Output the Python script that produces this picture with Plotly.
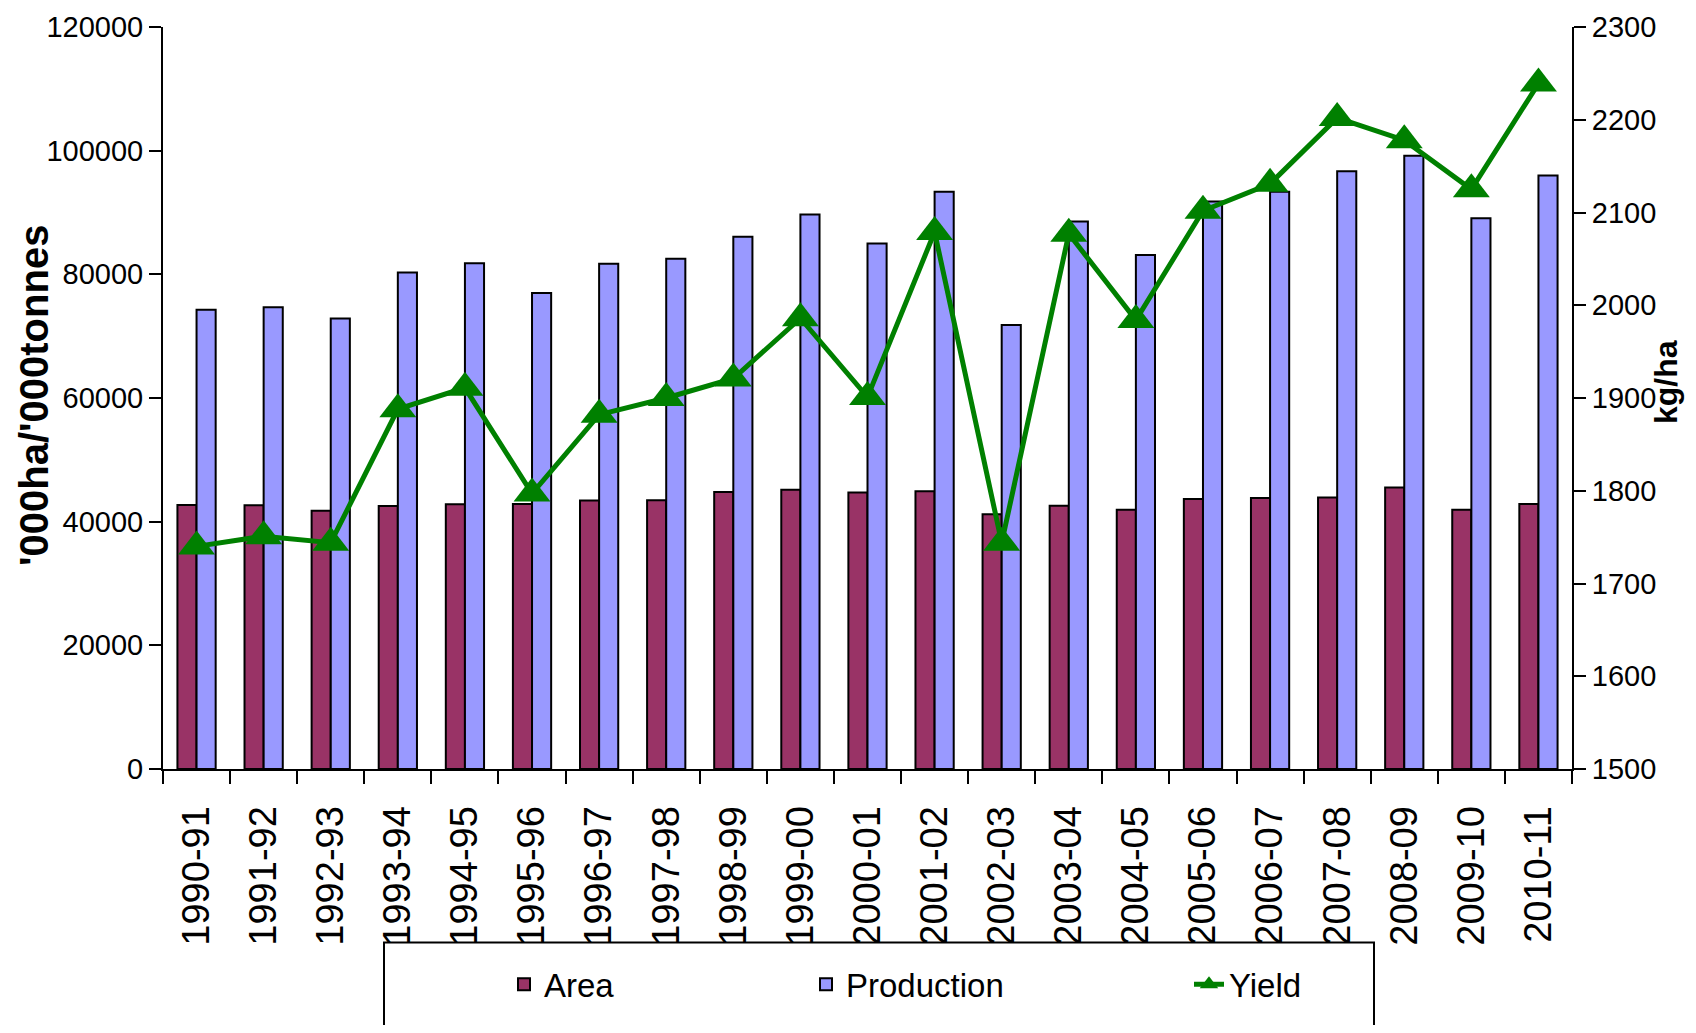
import plotly.graph_objects as go

years = ["1990-91", "1991-92", "1992-93", "1993-94", "1994-95", "1995-96", "1996-97",
         "1997-98", "1998-99", "1999-00", "2000-01", "2001-02", "2002-03", "2003-04",
         "2004-05", "2005-06", "2006-07", "2007-08", "2008-09", "2009-10", "2010-11"]
area = [42690, 42650, 41780, 42540, 42810, 42840, 43430, 43450, 44800, 45160, 44710,
        44900, 41180, 42590, 41910, 43660, 43810, 43910, 45540, 41920, 42860]
production = [74290, 74680, 72860, 80300, 81810, 76980, 81730, 82540, 86080, 89680, 84980,
              93340, 71820, 88530, 83130, 91790, 93360, 96690, 99180, 89090, 95980]
yield_kg = [1740, 1751, 1744, 1888, 1911, 1797, 1882, 1900, 1921, 1986, 1901,
            2079, 1744, 2077, 1984, 2102, 2131, 2202, 2178, 2125, 2239]

# page is drawn with an 8px body margin; figure sized to fit the window
OFF = 8
W, H = 1696 - 2 * OFF, 1033 - 2 * OFF
L, R, T, B = 163 - OFF, 116, 27 - OFF, 254
PW, PH = W - L - R, H - T - B


def px(x):
    """page x pixel -> paper fraction"""
    return (x - OFF - L) / PW


def py(y):
    """page y pixel -> paper fraction"""
    return (H - B - (y - OFF)) / PH


SANS = "Liberation Sans, Arial, sans-serif"

fig = go.Figure()
fig.add_trace(go.Bar(x=years, y=area, name="Area", legend="legend",
                     marker=dict(color="#993366", line=dict(color="black", width=2))))
fig.add_trace(go.Bar(x=years, y=production, name="Production", legend="legend2",
                     marker=dict(color="#9999FF", line=dict(color="black", width=2))))
fig.add_trace(go.Scatter(x=years, y=yield_kg, name="Yield", yaxis="y2", legend="legend3",
                         mode="lines+markers",
                         line=dict(color="#008000", width=5),
                         marker=dict(symbol="triangle-up", size=32, color="#008000")))

legend_common = dict(orientation="h", yanchor="middle", xanchor="left",
                     bgcolor="rgba(0,0,0,0)", borderwidth=0,
                     font=dict(family=SANS, size=33, color="black"))

axis_common = dict(ticks="outside", tickwidth=2, tickcolor="black", showline=True,
                   linecolor="black", linewidth=2, showgrid=False, zeroline=False,
                   automargin=False)

fig.update_layout(
    width=W, height=H,
    margin=dict(l=L, r=R, t=T, b=B, pad=0),
    paper_bgcolor="white", plot_bgcolor="white",
    showlegend=True,
    barmode="group", bargap=0.43, bargroupgap=0,
    xaxis=dict(type="category", range=[-0.5, len(years) - 0.5], tickson="boundaries",
               ticklen=13, tickangle=-90, ticklabelstandoff=20,
               tickfont=dict(family=SANS, size=38, color="black"), **axis_common),
    yaxis=dict(range=[0, 120000], dtick=20000, tickformat="d", ticklen=12,
               tickfont=dict(family=SANS, size=29, color="black"), **axis_common),
    yaxis2=dict(range=[1500, 2300], dtick=100, tickformat="d", overlaying="y", side="right",
                ticklen=12, tickfont=dict(family=SANS, size=29, color="black"), **axis_common),
    legend=dict(x=px(504), y=py(987), **legend_common),
    legend2=dict(x=px(806), y=py(987), **legend_common),
    legend3=dict(x=px(1189), y=py(987), **legend_common),
    shapes=[dict(type="rect", xref="paper", yref="paper", layer="above",
                 x0=px(384), x1=px(1374), y0=py(945), y1=py(1060),
                 line=dict(color="black", width=2), fillcolor="white")],
    annotations=[
        dict(text="<b>'000ha/'000tonnes</b>", xref="paper", yref="paper",
             x=px(34), y=py(397), xanchor="center", yanchor="middle", textangle=-90,
             showarrow=False, font=dict(family=SANS, size=40, color="black")),
        dict(text="<b>kg/ha</b>", xref="paper", yref="paper",
             x=px(1666), y=py(383), xanchor="center", yanchor="middle", textangle=-90,
             showarrow=False, font=dict(family=SANS, size=32, color="black")),
    ],
)

fig.write_html("out.html")
